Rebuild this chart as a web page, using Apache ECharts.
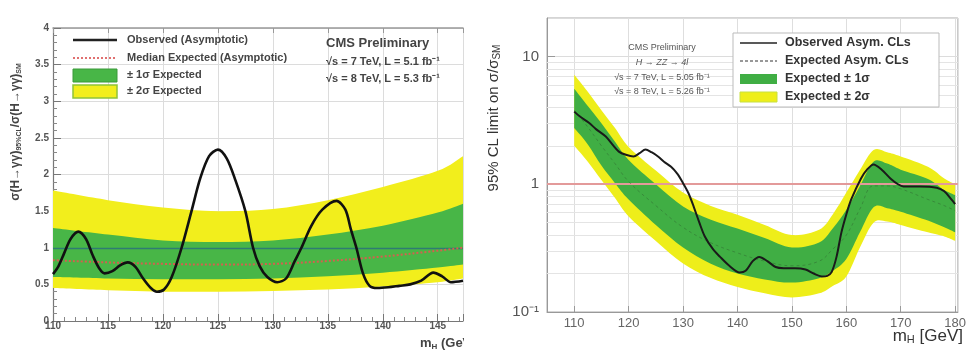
<!DOCTYPE html>
<html><head><meta charset="utf-8">
<script src="https://cdn.jsdelivr.net/npm/echarts@6/dist/echarts.min.js"></script>
<style>html,body{margin:0;padding:0;background:#fff}#c{width:969px;height:358px}</style>
</head><body><div id="c"></div>
<script>
// ---------- Left panel: H -> gamma gamma ----------
const leftObsMass = [110,110.5,111,111.6,112.3,113,113.6,114.2,114.7,115.4,116.1,116.8,117.5,118.2,118.9,119.45,120.1,120.8,121.7,122.6,123.4,124.2,125,125.8,126.6,127.5,128.2,128.8,129.5,130.4,131.2,132,132.6,133.5,134.5,135.8,136.6,137.1,137.6,138.2,138.8,139.5,140.5,141.5,142.5,143.5,144.6,145.4,146.2,147.3];
const leftObsVal = [0.64,0.75,0.92,1.12,1.22,1.12,0.9,0.72,0.65,0.68,0.76,0.8,0.74,0.58,0.45,0.40,0.43,0.6,1.0,1.5,1.95,2.25,2.34,2.22,1.92,1.5,1.0,0.75,0.6,0.53,0.58,0.82,1.0,1.3,1.52,1.64,1.52,1.25,1.0,0.65,0.48,0.45,0.46,0.48,0.5,0.55,0.66,0.61,0.53,0.55];
const leftBandMass = [110,115,120,125,130,135,140,145,147.3];
const leftY2Lo   = [0.45,0.42,0.40,0.40,0.41,0.43,0.47,0.53,0.58];
const leftY1Lo   = [0.60,0.58,0.57,0.57,0.58,0.61,0.66,0.73,0.77];
const leftMedian = [0.83,0.80,0.78,0.77,0.78,0.82,0.88,0.96,1.00];
const leftY1Hi   = [1.27,1.18,1.10,1.08,1.10,1.18,1.30,1.48,1.60];
const leftY2Hi   = [1.78,1.65,1.55,1.50,1.53,1.65,1.83,2.05,2.25];
const leftRef = 1;

// ---------- Right panel: H -> ZZ -> 4l ----------
const rightObsMass = [110,111,112.7,114,115.8,117,118.2,119.5,120.9,122,123.1,124.2,125.4,126.5,127.8,129,130,131,132,133,134,135.5,136.8,138.5,140.4,141.5,142.8,144,145.5,147,148.5,150.6,152.5,154,155.5,156.5,157.3,158.2,159.1,160,160.9,162.7,163.8,165,166.5,168.1,169.5,170.5,173.5,176.6,178,179.3,180];
const rightObsVal = [3.7,3.4,3.03,2.7,2.36,2.05,1.8,1.7,1.65,1.75,1.87,1.78,1.65,1.5,1.37,1.2,1.02,0.85,0.66,0.5,0.39,0.31,0.27,0.23,0.204,0.21,0.25,0.27,0.25,0.225,0.22,0.22,0.215,0.2,0.19,0.192,0.205,0.27,0.42,0.58,0.76,1.11,1.3,1.43,1.3,1.11,1.0,0.96,0.96,0.94,0.88,0.76,0.7];
const rightBandMass = [110,112.5,115,117.5,120,125,130,135,140,145,150,155,157.5,160,162.5,165,167.5,170,175,178,180];
const rightY2Lo   = [2.0,1.5,1.08,0.78,0.56,0.36,0.24,0.185,0.157,0.14,0.13,0.14,0.16,0.19,0.32,0.5,0.51,0.48,0.42,0.39,0.36];
const rightY1Lo   = [2.75,2.05,1.4,1.02,0.76,0.48,0.32,0.24,0.2,0.18,0.17,0.184,0.21,0.26,0.42,0.66,0.65,0.61,0.52,0.46,0.42];
const rightMedian = [3.8,2.8,2.0,1.45,1.05,0.68,0.46,0.35,0.29,0.25,0.23,0.25,0.31,0.40,0.64,0.97,0.97,0.92,0.76,0.68,0.62];
const rightY1Hi   = [5.6,4.1,3.0,2.15,1.55,1.0,0.67,0.53,0.45,0.38,0.32,0.35,0.45,0.63,0.97,1.5,1.45,1.3,1.1,0.9,0.82];
const rightY2Hi   = [7.2,5.3,3.8,2.75,1.96,1.28,0.86,0.68,0.577,0.48,0.40,0.44,0.58,0.86,1.29,1.85,1.78,1.65,1.37,1.11,1.0];
const rightXTicks = [110,120,130,140,150,160,170,180];
const rightYMinorGrid = [0.2,0.3,0.4,0.5,0.6,0.7,0.8,0.9,2,3,4,5,6,7,8,9];
const rightRef = 1;

// ---------- helpers ----------
const pairs = (xs, ys) => xs.map((x, i) => [x, ys[i]]);
const triples = (xs, lo, hi) => xs.map((x, i) => [x, lo[i], hi[i]]);

const YEL_L = '#f2ee1c', GRN_L = '#48b647';
const YEL_R = '#eeee1a', GRN_R = '#40ae44';
const FONT = '"Liberation Sans", Arial, sans-serif';

// Catmull-Rom -> cubic Bezier path segment through pixel points (rendering only)
function crPath(pts, start) {
  let d = start ? ('M' + pts[0][0] + ' ' + pts[0][1]) : ('L' + pts[0][0] + ' ' + pts[0][1]);
  const t = 1 / 3;
  for (let i = 0; i < pts.length - 1; i++) {
    const p0 = pts[i - 1] || pts[i], p1 = pts[i], p2 = pts[i + 1], p3 = pts[i + 2] || pts[i + 1];
    const c1x = p1[0] + (p2[0] - p0[0]) * t / 2, c1y = p1[1] + (p2[1] - p0[1]) * t / 2;
    const c2x = p2[0] - (p3[0] - p1[0]) * t / 2, c2y = p2[1] - (p3[1] - p1[1]) * t / 2;
    d += 'C' + c1x + ' ' + c1y + ' ' + c2x + ' ' + c2y + ' ' + p2[0] + ' ' + p2[1];
  }
  return d;
}

function bandSeries(xi, yi, mass, lo, hi, color, z) {
  return {
    type:'custom', xAxisIndex:xi, yAxisIndex:yi, silent:true, z:z,
    data: triples(mass, lo, hi),
    encode:{x:0, y:[1,2]},
    renderItem: function (params, api) {
      if (params.dataIndexInside !== 0) return null;
      const n = params.dataInsideLength;
      const up = [], dn = [];
      for (let i = 0; i < n; i++) {
        const x = api.value(0, i);
        up.push(api.coord([x, api.value(2, i)]));
        dn.push(api.coord([x, api.value(1, i)]));
      }
      dn.reverse();
      const d = crPath(up, true) + crPath(dn, false) + 'Z';
      return {type:'path', shape:{pathData:d}, style:{fill:color, stroke:null}};
    }
  };
}

const chart = echarts.init(document.getElementById('c'), null, {renderer:'canvas'});

const series = [];
// left bands
series.push(bandSeries(0, 0, leftBandMass, leftY2Lo, leftY2Hi, YEL_L, 2));
series.push(bandSeries(0, 0, leftBandMass, leftY1Lo, leftY1Hi, GRN_L, 2));
// left median + y=1 line
series.push({type:'line', xAxisIndex:0, yAxisIndex:0, symbol:'none', smooth:0.4, silent:true, z:3,
  data: pairs(leftBandMass, leftMedian), lineStyle:{color:'#d4604e', width:2, type:[2,2]},
  markLine:{z:3, silent:true, symbol:'none', label:{show:false}, lineStyle:{color:'#2e7d72', width:1.3, type:'solid'},
    data:[{yAxis:leftRef}]}});
// left observed
series.push({type:'line', xAxisIndex:0, yAxisIndex:0, symbol:'none', smooth:0.3, silent:true, z:6,
  data: pairs(leftObsMass, leftObsVal), lineStyle:{color:'#111', width:2.6}});

// right faint minor grid (below bands)
series.push({type:'line', xAxisIndex:1, yAxisIndex:1, data:[], z:1, silent:true,
  markLine:{z:1, silent:true, symbol:'none', label:{show:false}, lineStyle:{color:'#e4e4e4', width:1, type:'solid'},
    data: rightYMinorGrid.map(v => ({yAxis:v}))}});
// right bands
series.push(bandSeries(1, 1, rightBandMass, rightY2Lo, rightY2Hi, YEL_R, 2));
series.push(bandSeries(1, 1, rightBandMass, rightY1Lo, rightY1Hi, GRN_R, 2));
// right expected median + red y=1 line
series.push({type:'line', xAxisIndex:1, yAxisIndex:1, symbol:'none', smooth:0.4, silent:true, z:3,
  data: pairs(rightBandMass, rightMedian), lineStyle:{color:'#2f5f2f', width:1, type:[3,3], opacity:0.45},
  markLine:{z:3, silent:true, symbol:'none', label:{show:false}, lineStyle:{color:'#e39a9a', width:2, type:'solid'},
    data:[{yAxis:rightRef}]}});
// right observed
series.push({type:'line', xAxisIndex:1, yAxisIndex:1, symbol:'none', smooth:0.3, silent:true, z:6,
  data: pairs(rightObsMass, rightObsVal), lineStyle:{color:'#1a1a1a', width:2}});

const txt = (x, y, text, font, fill, align, extra) => Object.assign({type:'text', x, y, z:50,
  style:{text, font, fill, textAlign:align||'left', textVerticalAlign:'middle'}}, extra||{});

const graphic = [
  // left legend
  {type:'line', z:50, shape:{x1:73, y1:40, x2:117, y2:40}, style:{stroke:'#222', lineWidth:2.5}},
  {type:'line', z:50, shape:{x1:73, y1:58, x2:117, y2:58}, style:{stroke:'#e07070', lineWidth:2, lineDash:[2,2]}},
  {type:'rect', z:50, shape:{x:73, y:69, width:44, height:13}, style:{fill:GRN_L, stroke:'#3a9a3a', lineWidth:1}},
  {type:'rect', z:50, shape:{x:73, y:85, width:44, height:13}, style:{fill:YEL_L, stroke:'#8fc33a', lineWidth:1.5}},
  txt(127, 40, 'Observed (Asymptotic)', 'bold 11px '+FONT, '#444'),
  txt(127, 58, 'Median Expected (Asymptotic)', 'bold 11px '+FONT, '#444'),
  txt(127, 75, '± 1σ Expected', 'bold 11px '+FONT, '#444'),
  txt(127, 91, '± 2σ Expected', 'bold 11px '+FONT, '#444'),
  txt(326, 43, 'CMS Preliminary', 'bold 13px '+FONT, '#444'),
  txt(326, 62, '√s = 7 TeV, L = 5.1 fb⁻¹', 'bold 11px '+FONT, '#444'),
  txt(326, 79, '√s = 8 TeV, L = 5.3 fb⁻¹', 'bold 11px '+FONT, '#444'),
  // left y title
  {type:'text', z:50, x:16, y:132, rotation:Math.PI/2,
    style:{text:'σ(H→γγ){s|95%CL}/σ(H→γγ){s|SM}', font:'bold 12px '+FONT, fill:'#444',
      textAlign:'center', textVerticalAlign:'middle',
      rich:{s:{fontSize:7, fontWeight:'bold', fill:'#444', padding:[6,0,0,0]}}}},
  // left x title
  {type:'text', z:50, x:420, y:343,
    style:{text:'m{s|H} (GeV)', font:'bold 13px '+FONT, fill:'#444', textAlign:'left', textVerticalAlign:'middle',
      rich:{s:{fontSize:8, fontWeight:'bold', fill:'#444', padding:[7,0,0,0]}}}},
  // crop strip between panels
  {type:'rect', z:60, shape:{x:464, y:0, width:14, height:358}, style:{fill:'#fff'}},

  // right legend
  {type:'rect', z:50, shape:{x:733, y:33, width:206, height:74}, style:{fill:'#fff', stroke:'#bbb', lineWidth:1}},
  {type:'line', z:51, shape:{x1:740, y1:43, x2:777, y2:43}, style:{stroke:'#222', lineWidth:1.5}},
  {type:'line', z:51, shape:{x1:740, y1:61, x2:777, y2:61}, style:{stroke:'#333', lineWidth:1, lineDash:[3,2]}},
  {type:'rect', z:51, shape:{x:740, y:74, width:37, height:10}, style:{fill:GRN_R}},
  {type:'rect', z:51, shape:{x:740, y:92, width:37, height:10}, style:{fill:YEL_R, stroke:'#c8e040', lineWidth:1}},
  txt(785, 43, 'Observed Asym. CLs', 'bold 12.5px '+FONT, '#333', 'left', {z:51}),
  txt(785, 61, 'Expected Asym. CLs', 'bold 12.5px '+FONT, '#333', 'left', {z:51}),
  txt(785, 79, 'Expected ± 1σ', 'bold 12.5px '+FONT, '#333', 'left', {z:51}),
  txt(785, 97, 'Expected ± 2σ', 'bold 12.5px '+FONT, '#333', 'left', {z:51}),
  // right annotation
  txt(662, 48, 'CMS Preliminary', '9px '+FONT, '#555', 'center'),
  txt(662, 62, 'H → ZZ → 4l', 'italic 9px '+FONT, '#555', 'center'),
  txt(662, 78, '√s = 7 TeV, L = 5.05 fb⁻¹', '9px '+FONT, '#555', 'center'),
  txt(662, 92, '√s = 8 TeV, L = 5.26 fb⁻¹', '9px '+FONT, '#555', 'center'),
  // right y title
  {type:'text', z:50, x:494, y:118, rotation:Math.PI/2,
    style:{text:'95% CL limit on σ/σ{s|SM}', font:'15px '+FONT, fill:'#333',
      textAlign:'center', textVerticalAlign:'middle',
      rich:{s:{fontSize:10, fill:'#333', padding:[7,0,0,0]}}}},
  // right x title
  {type:'text', z:50, x:963, y:336,
    style:{text:'m{s|H} [GeV]', font:'17px '+FONT, fill:'#333', textAlign:'right', textVerticalAlign:'middle',
      rich:{s:{fontSize:11, fill:'#333', padding:[8,0,0,0]}}}}
];

const option = {
  animation:false,
  backgroundColor:'#fff',
  grid:[
    {left:53, top:28, width:410, height:293, show:false},
    {left:547, top:18, width:416, height:294, show:true, borderColor:'#aaa', borderWidth:1, backgroundColor:'transparent'}
  ],
  xAxis:[
    {type:'value', gridIndex:0, min:110, max:147.3, interval:5,
      axisLine:{show:true, lineStyle:{color:'#777', width:1.2}},
      axisTick:{show:true, inside:true, length:7, lineStyle:{color:'#777'}},
      minorTick:{show:true, splitNumber:5, length:4, lineStyle:{color:'#888'}},
      axisLabel:{showMaxLabel:false, margin:0, color:'#555', fontSize:10, fontWeight:'bold', fontFamily:FONT},
      splitLine:{show:true, lineStyle:{color:'#dcdcdc', width:1}}},
    {type:'value', gridIndex:1, min:105, max:180.5,
      axisLine:{show:true, lineStyle:{color:'#999'}},
      axisTick:{show:true, inside:true, length:6, customValues:rightXTicks, lineStyle:{color:'#999'}},
      axisLabel:{customValues:rightXTicks, margin:5, color:'#666', fontSize:13, fontFamily:FONT},
      splitLine:{show:true, lineStyle:{color:'#dedede', width:1}}},
    {type:'value', gridIndex:0, position:'top', min:110, max:147.3, interval:5,
      axisLine:{show:true, lineStyle:{color:'#999', width:1.5}},
      axisTick:{show:true, inside:true, length:5, lineStyle:{color:'#999'}},
      axisLabel:{show:false}, splitLine:{show:false}}
  ],
  yAxis:[
    {type:'value', gridIndex:0, min:0, max:4, interval:0.5,
      axisLine:{show:true, lineStyle:{color:'#777', width:1.2}},
      axisTick:{show:true, inside:true, length:8, lineStyle:{color:'#777'}},
      minorTick:{show:true, splitNumber:5, length:4, lineStyle:{color:'#888'}},
      axisLabel:{margin:4, color:'#555', fontSize:10, fontWeight:'bold', fontFamily:FONT},
      splitLine:{show:true, lineStyle:{color:'#dcdcdc', width:1}}},
    {type:'log', gridIndex:1, logBase:10, min:0.1, max:20,
      axisLine:{show:true, lineStyle:{color:'#999'}},
      axisTick:{show:true, inside:true, length:8, lineStyle:{color:'#999'}},
      axisLabel:{showMaxLabel:false, margin:8, color:'#555', fontSize:15, fontFamily:FONT,
        formatter: v => (Math.abs(v - 0.1) < 1e-9 ? '10⁻¹' : (Math.abs(v-1)<1e-9 ? '1' : (Math.abs(v-10)<1e-9 ? '10' : '')))},
      splitLine:{show:true, lineStyle:{color:'#dcdcdc', width:1}}}
  ],
  graphic: graphic,
  series: series
};
chart.setOption(option);
</script>
</body></html>
